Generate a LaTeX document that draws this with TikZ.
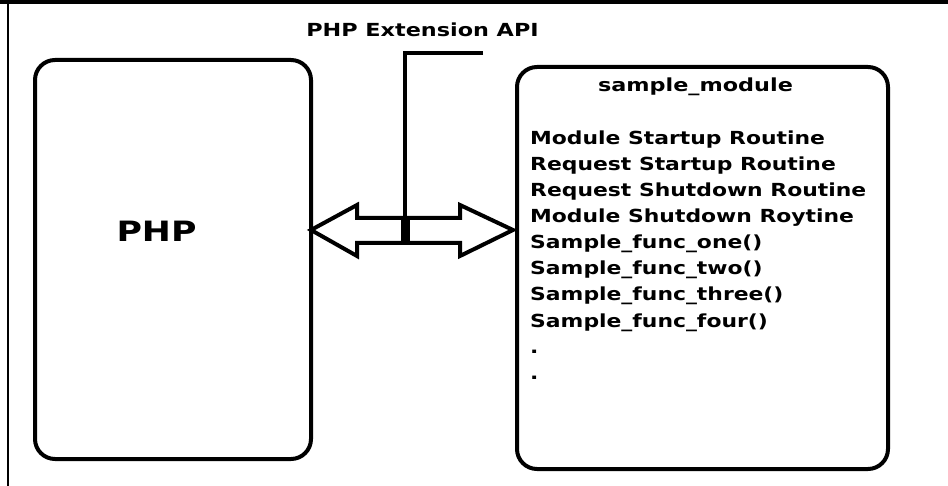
\documentclass[tikz,border=0pt]{standalone}
\usepackage{fontspec}
\usepackage{graphicx}
\setmainfont{DejaVu Sans}
\newcommand\wtext[1]{\scalebox{1.24}[1]{#1}}
\newcommand\wlist[1]{\scalebox{1.215}[1]{#1}}
\begin{document}
\begin{tikzpicture}[x=1pt,y=-1pt,
  box/.style={draw,line width=4pt,rounded corners=20pt,inner sep=0pt},
  lbl/.style={inner sep=0pt},
  thick4/.style={line width=4pt}]
\useasboundingbox (0,0) rectangle (948,486);
% frame
\draw[line width=4pt] (0,2) -- (948,2);
\draw[line width=2pt] (8,0) -- (8,486);
% boxes
\draw[box] (35,60) rectangle (311,459);
\node[lbl,font=\bfseries\fontsize{28}{30}\selectfont,anchor=base] (php) at (156.5,242) {\wtext{PHP}};
\draw[box] (517,67) rectangle (888,469);
\node[lbl,font=\bfseries\fontsize{18}{20}\selectfont,anchor=base] (title) at (695.5,92) {\wtext{sample\_module}};
\foreach \t [count=\i from 0] in {Module Startup Routine,Request Startup Routine,Request Shutdown Routine,Module Shutdown Roytine,Sample\_func\_one(),Sample\_func\_two(),Sample\_func\_three(),Sample\_func\_four(),.,.}
  \node[lbl,font=\bfseries\fontsize{18}{20}\selectfont,anchor=base west] (item\i) at (530,145+26*\i) {\wlist{\t}};
% double arrow
\draw[thick4,line join=miter] (311,230) -- (357,205) -- (357,218) -- (460,218) -- (460,205) -- (513,230)
  -- (460,256) -- (460,243) -- (357,243) -- (357,256) -- cycle;
% API line
\draw[thick4] (483,53) -- (405,53) -- (405,243);
\draw[line width=9pt] (405,218) -- (405,243);
\node[lbl,font=\bfseries\fontsize{18}{20}\selectfont,anchor=base] (api) at (422.5,37) {\wtext{PHP Extension API}};
\end{tikzpicture}
\end{document}
